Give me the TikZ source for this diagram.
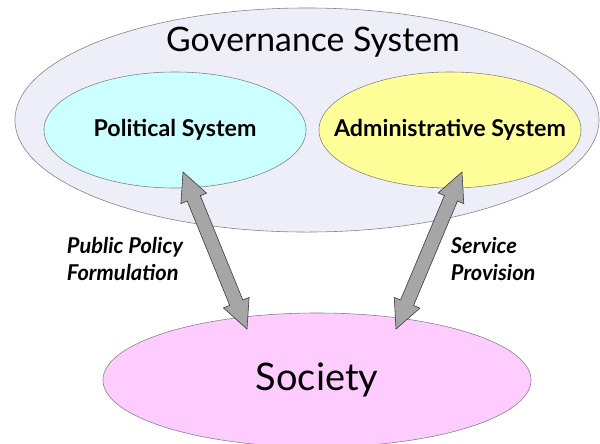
\documentclass[tikz,border=0pt]{standalone}
\usepackage{fontspec}
\setmainfont{Lato}
\usetikzlibrary{shapes.geometric,shapes.arrows,calc}
\definecolor{govfill}{HTML}{EEEEF8}
\definecolor{polfill}{HTML}{CCFFFF}
\definecolor{admfill}{HTML}{FFFF99}
\definecolor{socfill}{HTML}{FFCCFF}
\definecolor{rimgray}{HTML}{808080}
\definecolor{arrowgray}{HTML}{A6A6A6}
\begin{document}
\begin{tikzpicture}[x=0.025cm,y=-0.025cm,
  sys/.style={draw=rimgray,ellipse,inner sep=0pt},
  sysname/.style={font=\bfseries\fontsize{16.5}{20}\selectfont},
  flow/.style={double arrow,draw=black!80,fill=arrowgray,inner sep=0pt,inner ysep=0.17cm,
    double arrow head extend=0.17cm,double arrow tip angle=52},
  lbl/.style={font=\bfseries\itshape\fontsize{15.5}{19}\selectfont,align=left,anchor=west}]
\useasboundingbox (0,0) rectangle (600,443);

\node[sys,fill=govfill,minimum width=14.6cm,minimum height=5.6cm] (gov) at (307,120) {};
\node[font=\fontsize{24}{29}\selectfont] (govname) at (313,42) {Governance System};

\node[sys,fill=polfill,minimum width=6.55cm,minimum height=2.9cm] (pol) at (175,130) {};
\node[sysname] (polname) at (pol) {Political System};
\node[sys,fill=admfill,minimum width=6.55cm,minimum height=2.9cm] (adm) at (450,130) {};
\node[sysname] (admname) at (adm) {Administrative System};

\node[sys,fill=socfill,minimum width=10.7cm,minimum height=3.35cm] (soc) at (317,380) {};
\node[font=\fontsize{27}{32}\selectfont] (socname) at (soc) {Society};

% arrow ends
\coordinate (poltop) at (183,172);
\coordinate (polbot) at (247,329);
\coordinate (admtop) at (462,172);
\coordinate (admbot) at (396,329);

\path let \p1=($(polbot)-(poltop)$), \n1={atan2(\y1,\x1)}, \n2={veclen(\x1,\y1)} in
  node[flow,rotate=\n1,minimum height=\n2] (polarrow) at ($(poltop)!0.5!(polbot)$) {};
\path let \p1=($(admbot)-(admtop)$), \n1={atan2(\y1,\x1)}, \n2={veclen(\x1,\y1)} in
  node[flow,rotate=\n1,minimum height=\n2] (admarrow) at ($(admtop)!0.5!(admbot)$) {};

\node[lbl] (pollbl) at (62,259) {Public Policy\\Formulation};
\node[lbl] (admlbl) at (446,259) {Service\\Provision};
\end{tikzpicture}
\end{document}
